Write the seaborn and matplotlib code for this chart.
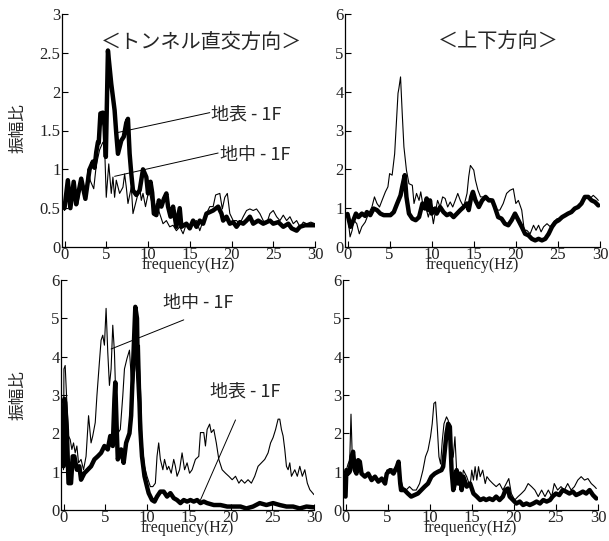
import matplotlib
matplotlib.use("Agg")
import matplotlib.pyplot as plt
import seaborn as sns
from matplotlib.ticker import FormatStrFormatter

# ---------------- data ----------------
x_ticks = [0, 5, 10, 15, 20, 25, 30]
title_left = "＜トンネル直交方向＞"
title_right = "＜上下方向＞"
ylabel = "振幅比"
xlabel = "frequency(Hz)"
label_surf = "地表 - 1F"
label_mid = "地中 - 1F"

# top-left : tunnel-orthogonal, thick = 地表-1F, thin = 地中-1F
f_tl_surf = [0, 0.4, 0.7, 1.1, 1.4, 2.0, 2.5, 3.0, 3.4, 3.6,
             3.8, 4.0, 4.1, 4.3, 4.6, 4.8, 4.95, 5.2, 5.6, 6.0,
             6.2, 6.4, 6.8, 7.1, 7.4, 7.6, 7.8, 8.0, 8.2, 8.6,
             9.0, 9.4, 9.8, 10.0, 10.3, 10.5, 10.7, 11.0, 11.3, 11.6,
             11.9, 12.2, 12.4, 12.7, 13.0, 13.4, 13.8, 14.0, 14.6, 15.0,
             15.4, 15.8, 16.2, 16.6, 17.0, 17.8, 18.4, 18.8, 19.0, 19.4,
             19.8, 20.2, 20.6, 21.0, 21.4, 21.8, 22.2, 22.6, 23.2, 23.8,
             24.2, 24.6, 25.0, 25.6, 26.2, 26.8, 27.2, 27.8, 28.2, 28.8,
             29.3, 30.0]
a_tl_surf = [0.5, 0.86, 0.5, 0.84, 0.55, 0.88, 0.62, 1.0, 1.1, 1.02,
             1.22, 1.35, 1.34, 1.72, 1.73, 1.55, 1.16, 2.53, 2.1, 1.76,
             1.46, 1.2, 1.37, 1.42, 1.6, 1.65, 1.2, 0.94, 0.73, 0.67,
             0.73, 1.0, 0.9, 0.69, 0.84, 0.7, 0.43, 0.41, 0.6, 0.52,
             0.62, 0.69, 0.52, 0.39, 0.52, 0.26, 0.5, 0.26, 0.3, 0.24,
             0.34, 0.26, 0.34, 0.3, 0.43, 0.47, 0.52, 0.43, 0.34, 0.39,
             0.3, 0.32, 0.26, 0.32, 0.3, 0.34, 0.39, 0.3, 0.34, 0.3,
             0.32, 0.34, 0.3, 0.32, 0.26, 0.3, 0.24, 0.21, 0.26, 0.28,
             0.28, 0.28]
f_tl_mid = [0, 0.4, 0.8, 1.2, 1.6, 2.0, 2.5, 2.8, 3.1, 3.5,
            3.8, 4.2, 4.6, 4.8, 5.0, 5.3, 5.6, 5.8, 6.0, 6.2,
            6.6, 7.0, 7.2, 7.4, 7.6, 8.0, 8.2, 8.6, 9.0, 9.2,
            9.4, 9.7, 10.1, 10.4, 10.7, 11.0, 11.4, 11.8, 12.2, 12.6,
            13.0, 13.4, 13.8, 14.2, 14.6, 15.0, 15.4, 15.8, 16.2, 16.6,
            17.0, 17.4, 17.8, 18.1, 18.6, 18.9, 19.2, 19.5, 19.8, 20.2,
            20.6, 21.0, 21.4, 21.8, 22.2, 22.6, 23.0, 23.4, 23.8, 24.2,
            24.6, 25.0, 25.4, 25.8, 26.2, 26.6, 27.0, 27.4, 27.8, 28.2,
            28.6, 29.0, 29.5, 30.0]
a_tl_mid = [0.47, 0.7, 0.5, 0.8, 0.55, 0.85, 0.62, 1.0, 0.85, 0.75,
            1.05, 1.25, 1.35, 1.3, 0.64, 1.07, 0.69, 0.9, 0.64, 0.86,
            0.69, 0.77, 0.94, 0.77, 0.56, 0.77, 0.43, 0.6, 0.77, 0.6,
            0.69, 0.52, 0.73, 0.6, 0.43, 0.56, 0.43, 0.3, 0.34, 0.26,
            0.28, 0.21, 0.26, 0.17, 0.3, 0.26, 0.32, 0.34, 0.21, 0.34,
            0.43, 0.52, 0.52, 0.67, 0.69, 0.49, 0.64, 0.69, 0.43, 0.34,
            0.34, 0.3, 0.39, 0.47, 0.49, 0.47, 0.49, 0.43, 0.34, 0.3,
            0.43, 0.47, 0.39, 0.34, 0.41, 0.34, 0.39, 0.3, 0.34, 0.26,
            0.32, 0.3, 0.32, 0.3]

# top-right : vertical
f_tr_surf = [0, 0.35, 0.7, 1.0, 1.3, 1.7, 2.1, 2.3, 2.7, 3.1,
             3.5, 3.9, 4.3, 4.7, 5.1, 5.5, 5.9, 6.3, 6.5, 6.8,
             7.0, 7.3, 7.7, 8.1, 8.5, 8.9, 9.2, 9.4, 9.6, 9.8,
             10.0, 10.4, 10.6, 11.0, 11.4, 11.8, 12.2, 12.6, 13.0, 13.4,
             13.8, 14.2, 14.4, 14.7, 14.9, 15.2, 15.6, 16.0, 16.4, 16.8,
             17.2, 17.5, 17.9, 18.3, 18.7, 19.1, 19.5, 19.9, 20.3, 20.7,
             21.1, 21.5, 21.9, 22.3, 22.7, 23.1, 23.5, 23.9, 24.3, 24.7,
             25.1, 25.5, 25.9, 26.2, 26.6, 27.0, 27.4, 27.8, 28.2, 28.6,
             29.0, 29.4, 29.8]
a_tr_surf = [0.85, 0.52, 0.69, 0.86, 0.77, 0.86, 0.8, 0.9, 0.82, 0.99,
             0.95, 0.86, 0.82, 0.82, 0.82, 0.9, 1.12, 1.33, 1.55, 1.85,
             1.29, 0.86, 0.73, 0.69, 0.77, 1.12, 0.99, 1.25, 0.95, 1.2,
             0.86, 0.99, 0.86, 1.03, 0.9, 0.82, 0.86, 0.77, 0.86, 0.95,
             1.03, 1.12, 0.95, 1.29, 1.42, 1.2, 1.03, 1.2, 1.29, 1.2,
             1.2, 1.03, 0.77, 0.73, 0.6, 0.56, 0.69, 0.86, 0.69, 0.52,
             0.34, 0.3, 0.21, 0.17, 0.21, 0.17, 0.21, 0.34, 0.52, 0.64,
             0.69, 0.77, 0.82, 0.86, 0.9, 0.99, 1.03, 1.12, 1.29, 1.29,
             1.2, 1.16, 1.07]
f_tr_mid = [0, 0.3, 0.55, 0.75, 1.1, 1.4, 1.7, 2.1, 2.5, 2.9,
            3.2, 3.5, 3.8, 4.1, 4.5, 4.8, 5.0, 5.3, 5.6, 5.8,
            6.0, 6.1, 6.3, 6.5, 6.7, 7.0, 7.3, 7.7, 7.9, 8.2,
            8.5, 8.7, 9.0, 9.2, 9.6, 9.9, 10.2, 10.4, 10.7, 11.0,
            11.3, 11.6, 11.9, 12.2, 12.5, 12.8, 13.1, 13.4, 13.8, 14.2,
            14.4, 14.6, 15.0, 15.2, 15.5, 15.8, 16.2, 16.6, 17.0, 17.4,
            17.8, 18.1, 18.5, 18.9, 19.3, 19.7, 20.0, 20.3, 20.7, 21.0,
            21.3, 21.7, 22.1, 22.4, 22.7, 23.0, 23.3, 23.7, 24.1, 24.5,
            24.9, 25.3, 25.7, 26.1, 26.5, 26.8, 27.2, 27.6, 28.0, 28.4,
            28.8, 29.2, 29.6, 29.8]
a_tr_mid = [0.86, 0.26, 0.43, 0.69, 0.6, 0.34, 0.52, 0.64, 0.86, 1.03,
            1.29, 1.12, 1.03, 1.2, 1.42, 1.55, 1.89, 1.85, 2.4, 3.18,
            3.96, 4.08, 4.38, 3.44, 2.58, 1.98, 1.63, 1.59, 1.12, 1.38,
            1.2, 1.42, 1.03, 1.12, 0.77, 1.03, 0.6, 0.86, 1.2, 1.03,
            1.29, 1.25, 1.03, 1.16, 1.03, 1.2, 1.38, 1.2, 1.03, 1.38,
            1.81, 2.1, 1.98, 1.72, 1.46, 1.29, 1.29, 1.2, 1.25, 1.12,
            0.95, 0.95, 1.12, 1.38, 1.46, 1.5, 1.12, 1.2, 0.95, 0.43,
            0.43, 0.34, 0.56, 0.43, 0.56, 0.39, 0.52, 0.6, 0.52, 0.64,
            0.73, 0.73, 0.82, 0.86, 0.86, 0.95, 0.99, 1.07, 1.2, 1.29,
            1.25, 1.33, 1.25, 1.2]

# bottom-left
f_bl_surf = [0, 0.1, 0.2, 0.4, 0.6, 0.9, 1.1, 1.3, 1.6, 1.9,
             2.1, 2.5, 2.9, 3.3, 3.7, 4.1, 4.5, 4.9, 5.3, 5.6,
             5.9, 6.1, 6.2, 6.35, 6.5, 6.9, 7.2, 7.5, 7.9, 8.1,
             8.3, 8.5, 8.6, 8.8, 8.9, 9.1, 9.2, 9.4, 9.7, 10.0,
             10.2, 10.6, 10.9, 11.2, 11.6, 12.0, 12.4, 12.8, 13.2, 13.6,
             14.0, 14.4, 14.8, 15.2, 15.6, 16.0, 16.4, 16.8, 17.2, 18.0,
             18.8, 19.6, 20.4, 21.2, 21.9, 22.7, 23.5, 24.3, 25.1, 25.9,
             26.7, 27.5, 28.3, 29.1, 30.0]
a_bl_surf = [1.14, 2.9, 2.8, 2.1, 0.7, 0.7, 1.4, 1.4, 1.05, 1.14,
             0.79, 0.96, 1.05, 1.14, 1.32, 1.4, 1.49, 1.67, 1.58, 1.93,
             1.67, 2.9, 3.33, 2.28, 1.32, 1.58, 1.23, 1.75, 2.0, 2.46,
             3.6, 4.74, 5.3, 5.0, 3.68, 2.8, 2.1, 1.4, 0.88, 0.61,
             0.44, 0.26, 0.22, 0.35, 0.48, 0.48, 0.35, 0.44, 0.31, 0.26,
             0.18, 0.26, 0.22, 0.26, 0.22, 0.26, 0.18, 0.22, 0.18, 0.13,
             0.13, 0.09, 0.09, 0.09, 0.04, 0.09, 0.18, 0.13, 0.18, 0.13,
             0.09, 0.09, 0.04, 0.09, 0.07]
f_bl_mid = [0, 0.05, 0.2, 0.4, 0.6, 0.8, 1.0, 1.2, 1.4, 1.6,
            1.8, 2.1, 2.4, 2.7, 3.0, 3.3, 3.5, 3.8, 4.0, 4.3,
            4.5, 4.7, 4.9, 5.1, 5.3, 5.5, 5.7, 5.9, 6.1, 6.3,
            6.5, 6.8, 7.1, 7.3, 7.6, 7.9, 8.1, 8.3, 8.5, 8.7,
            8.9, 9.1, 9.3, 9.4, 9.7, 10.0, 10.4, 10.7, 11.0, 11.2,
            11.4, 11.6, 11.9, 12.1, 12.4, 12.6, 12.9, 13.2, 13.4, 13.6,
            13.9, 14.2, 14.5, 14.8, 15.1, 15.4, 15.8, 16.2, 16.4, 16.8,
            17.0, 17.2, 17.5, 17.7, 18.0, 18.3, 18.6, 19.0, 19.4, 19.8,
            20.2, 20.6, 21.0, 21.3, 21.7, 22.1, 22.5, 22.9, 23.3, 23.7,
            24.1, 24.5, 24.8, 25.1, 25.4, 25.7, 25.9, 26.1, 26.3, 26.5,
            26.7, 26.9, 27.1, 27.3, 27.7, 28.0, 28.3, 28.6, 28.9, 29.2,
            29.5, 30.0]
a_bl_mid = [1.05, 3.68, 3.77, 2.8, 1.93, 1.84, 1.58, 1.75, 1.49, 1.67,
            1.23, 1.32, 1.05, 1.4, 2.46, 1.75, 1.93, 2.28, 2.98, 3.86,
            4.43, 4.56, 4.3, 5.26, 4.12, 3.25, 3.68, 4.82, 4.12, 2.63,
            2.0, 2.1, 2.98, 3.68, 3.95, 4.17, 3.5, 3.07, 3.6, 3.95,
            3.25, 4.3, 2.63, 1.75, 1.14, 0.88, 0.61, 0.61, 0.7, 1.4,
            1.75, 1.32, 1.05, 1.32, 1.05, 1.14, 0.96, 1.32, 1.14, 0.88,
            1.05, 1.49, 1.05, 1.23, 0.96, 1.05, 1.32, 1.4, 2.02, 2.02,
            1.67, 2.1, 2.24, 2.02, 2.1, 1.75, 1.32, 1.05, 0.96, 0.88,
            0.79, 0.88, 0.7, 0.79, 0.7, 0.79, 0.7, 0.88, 1.14, 1.23,
            1.32, 1.49, 1.75, 1.89, 2.1, 2.37, 2.37, 2.1, 1.93, 1.58,
            1.14, 1.05, 1.23, 0.88, 1.05, 0.88, 1.14, 0.88, 1.05, 0.7,
            0.53, 0.4]

# bottom-right
f_br_surf = [0, 0.05, 0.1, 0.3, 0.5, 0.7, 0.9, 1.1, 1.3, 1.5,
             1.7, 1.9, 2.3, 2.7, 3.1, 3.5, 3.9, 4.3, 4.7, 4.9,
             5.3, 5.7, 6.1, 6.3, 6.5, 6.6, 7.0, 7.4, 7.8, 8.2,
             8.6, 9.0, 9.4, 9.8, 10.2, 10.6, 11.0, 11.4, 11.6, 11.8,
             12.0, 12.2, 12.4, 12.6, 12.8, 13.0, 13.2, 13.4, 13.6, 13.8,
             14.0, 14.4, 14.8, 15.2, 15.6, 16.0, 16.4, 16.7, 17.1, 17.5,
             17.9, 18.3, 18.7, 19.0, 19.3, 19.5, 19.9, 20.3, 20.7, 21.1,
             21.5, 21.9, 22.3, 22.7, 23.1, 23.5, 23.9, 24.3, 24.6, 25.0,
             25.4, 25.8, 26.2, 26.6, 27.0, 27.4, 27.8, 28.2, 28.6, 29.0,
             29.4, 29.8]
a_br_surf = [0.35, 0.7, 1.04, 0.95, 1.0, 1.39, 1.52, 1.04, 0.95, 1.3,
             1.26, 0.95, 0.87, 0.95, 0.78, 0.87, 0.74, 0.82, 0.69, 0.95,
             1.04, 0.95, 1.13, 1.26, 0.69, 0.52, 0.52, 0.43, 0.35, 0.39,
             0.43, 0.52, 0.61, 0.69, 0.87, 0.95, 1.0, 1.04, 1.13, 1.56,
             2.0, 2.25, 2.17, 1.04, 0.52, 0.69, 1.04, 0.69, 0.95, 0.52,
             0.87, 0.61, 0.69, 0.43, 0.35, 0.26, 0.3, 0.26, 0.3, 0.26,
             0.35, 0.26, 0.35, 0.52, 0.56, 0.35, 0.26, 0.17, 0.22, 0.13,
             0.17, 0.13, 0.17, 0.22, 0.17, 0.26, 0.22, 0.26, 0.35, 0.43,
             0.39, 0.52, 0.48, 0.43, 0.48, 0.39, 0.43, 0.48, 0.43, 0.52,
             0.39, 0.3]
f_br_mid = [0, 0.1, 0.3, 0.5, 0.65, 0.8, 0.9, 1.1, 1.5, 1.9,
            2.3, 2.7, 3.1, 3.5, 3.9, 4.3, 4.7, 4.9, 5.4, 6.0,
            6.3, 6.5, 6.8, 7.2, 7.6, 8.0, 8.4, 8.8, 9.2, 9.5,
            9.8, 10.1, 10.3, 10.5, 10.7, 10.9, 11.1, 11.3, 11.5, 11.7,
            12.0, 12.2, 12.4, 12.6, 12.8, 13.0, 13.2, 13.4, 13.6, 13.8,
            14.0, 14.4, 14.8, 15.0, 15.2, 15.4, 15.6, 15.8, 16.0, 16.3,
            16.6, 16.8, 17.1, 17.5, 17.9, 18.3, 18.7, 19.1, 19.4, 19.7,
            20.1, 20.5, 20.9, 21.3, 21.7, 22.1, 22.5, 22.9, 23.3, 23.7,
            24.1, 24.5, 24.8, 25.2, 25.6, 26.0, 26.4, 26.8, 27.2, 27.6,
            28.0, 28.4, 28.8, 29.2, 29.6, 29.8]
a_br_mid = [0.7, 1.04, 1.2, 1.3, 2.5, 1.39, 1.52, 1.2, 1.2, 0.95,
            0.87, 0.95, 0.78, 0.87, 0.74, 0.82, 0.69, 1.04, 1.08, 1.04,
            1.2, 0.87, 0.61, 0.52, 0.61, 0.52, 0.52, 0.69, 1.04, 1.39,
            1.56, 1.91, 2.25, 2.78, 2.82, 2.17, 1.39, 1.2, 1.82, 2.25,
            2.43, 2.34, 2.08, 1.3, 1.39, 1.91, 1.04, 0.69, 0.95, 0.69,
            1.04, 0.87, 0.61, 1.04, 0.78, 1.13, 0.78, 1.13, 0.87, 1.04,
            0.69, 0.87, 0.78, 0.69, 0.61, 0.69, 0.52, 0.69, 0.82, 0.43,
            0.26, 0.35, 0.43, 0.52, 0.69, 0.61, 0.52, 0.35, 0.52, 0.35,
            0.52, 0.35, 0.69, 0.52, 0.61, 0.52, 0.69, 0.52, 0.61, 0.78,
            0.87, 0.78, 0.82, 0.69, 0.61, 0.56]

# ---------------- style ----------------
sns.set_style("ticks")
SERIF = ["Liberation Serif", "DejaVu Serif"]
CJK = ["Noto Sans CJK JP", "DejaVu Sans"]
plt.rcParams["font.family"] = SERIF
plt.rcParams["axes.linewidth"] = 0.9
plt.rcParams["axes.edgecolor"] = "black"

W, H = 609, 541
fig = plt.figure(figsize=(W / 100, H / 100), dpi=100)


def px_axes(x0, x1, y_top, y_bot):
    return fig.add_axes([x0 / W, 1 - y_bot / H, (x1 - x0) / W, (y_bot - y_top) / H])


ax_tl = px_axes(62, 315, 14, 247)
ax_tr = px_axes(345, 600, 14, 247)
ax_bl = px_axes(61, 314, 280, 510)
ax_br = px_axes(343, 598, 280, 510)


def draw(ax, fs, as_, fm, am, ymax, ystep):
    assert len(fs) == len(as_) and len(fm) == len(am)
    sns.lineplot(x=fs, y=as_, ax=ax, color="black", linewidth=3.2,
                 estimator=None, sort=False, solid_joinstyle="round")
    sns.lineplot(x=fm, y=am, ax=ax, color="black", linewidth=0.8,
                 estimator=None, sort=False)
    ax.set_xlim(-0.3, 30)
    ax.set_ylim(0, ymax)
    ax.set_xticks(x_ticks)
    yt = []
    v = 0.0
    while v <= ymax + 1e-9:
        yt.append(round(v, 2))
        v += ystep
    ax.set_yticks(yt)
    ax.yaxis.set_major_formatter(FormatStrFormatter("%g"))
    sns.despine(ax=ax)
    ax.tick_params(direction="in", length=4, width=0.8, labelsize=12,
                   labelcolor="#222222", color="black")
    ax.tick_params(axis="x", pad=0)
    ax.tick_params(axis="y", pad=1)
    ax.set_xlabel(xlabel, fontsize=11.5, labelpad=-4, color="#222222")
    ax.set_ylabel("")


draw(ax_tl, f_tl_surf, a_tl_surf, f_tl_mid, a_tl_mid, 3, 0.5)
draw(ax_tr, f_tr_surf, a_tr_surf, f_tr_mid, a_tr_mid, 6, 1)
draw(ax_bl, f_bl_surf, a_bl_surf, f_bl_mid, a_bl_mid, 6, 1)
draw(ax_br, f_br_surf, a_br_surf, f_br_mid, a_br_mid, 6, 1)

# titles
ax_tl.text(0.553, 0.876, title_left, transform=ax_tl.transAxes, ha="center",
           va="center", fontsize=14.5, family=CJK)
ax_tr.text(0.60, 0.88, title_right, transform=ax_tr.transAxes, ha="center",
           va="center", fontsize=14.5, family=CJK)

# y labels
fig.text(18 / W, 1 - 128 / H, ylabel, rotation=90, ha="center", va="center",
         fontsize=12, family=CJK)
fig.text(18 / W, 1 - 395 / H, ylabel, rotation=90, ha="center", va="center",
         fontsize=12, family=CJK)

line_kw = dict(arrowprops=dict(arrowstyle="-", lw=0.7, color="black",
                               shrinkA=0, shrinkB=0))

# annotations top-left
ax_tl.annotate("", xy=(6.2, 1.47), xytext=(17.4, 1.73), **line_kw)
ax_tl.text(17.6, 1.71, label_surf, ha="left", va="center", fontsize=13, family=CJK)
ax_tl.annotate("", xy=(6.0, 0.91), xytext=(18.4, 1.21), **line_kw)
ax_tl.text(18.6, 1.19, label_mid, ha="left", va="center", fontsize=13, family=CJK)

# annotations bottom-left
ax_bl.annotate("", xy=(5.7, 4.2), xytext=(14.4, 4.96), **line_kw)
ax_bl.text(16.15, 5.39, label_mid, ha="center", va="center", fontsize=13, family=CJK)
ax_bl.annotate("", xy=(16.4, 0.26), xytext=(20.6, 2.35), **line_kw)
ax_bl.text(21.75, 3.09, label_surf, ha="center", va="center", fontsize=13, family=CJK)

fig.savefig("out.png", dpi=100)
